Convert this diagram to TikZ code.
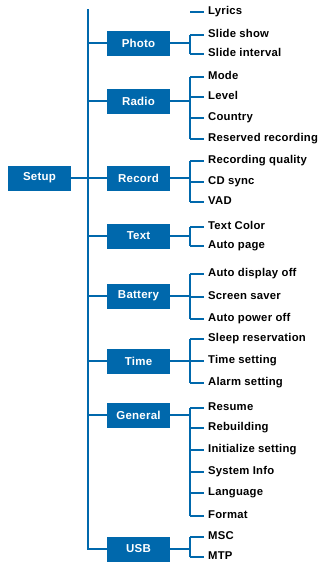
\documentclass[tikz,border=0pt]{standalone}
\usepackage{fontspec}
\setmainfont{Liberation Sans}[LetterSpace=2]
\definecolor{mblue}{RGB}{0,104,172}
\begin{document}
\begin{tikzpicture}[x=1pt,y=-1pt,
  catbox/.style={fill=mblue,text=white,font=\bfseries\fontsize{11.5}{13}\selectfont,minimum width=63pt,minimum height=25pt,inner sep=0pt},
  leaf/.style={anchor=west,font=\bfseries\fontsize{11.3}{13}\selectfont,inner sep=0pt,text height=8.2pt,text depth=2.3pt},
  conn/.style={draw=mblue,line width=1.8pt}]
\useasboundingbox (0,0) rectangle (323,563);
% root
\node[catbox] (setup) at (39.5,178) {Setup};
% categories
\node[catbox] (photo) at (138.5,43) {Photo};
\node[catbox] (radio) at (138.5,101) {Radio};
\node[catbox] (record) at (138.5,178) {Record};
\node[catbox] (text) at (138.5,236) {Text};
\node[catbox] (battery) at (138.5,296) {Battery};
\node[catbox] (time) at (138.5,361) {Time};
\node[catbox] (general) at (138.5,415) {General};
\node[catbox] (usb) at (138.5,549) {USB};
% trunk
\coordinate (ttop) at (88,9);
\coordinate (tbot) at (88,549);
\draw[conn] (ttop) -- (tbot) -- (usb.west);
\draw[conn] (setup.east) -- (88,178);
\foreach \c in {photo,radio,record,text,battery,time,general}
  \draw[conn] (88,0 |- \c.west) -- (\c.west);
% leaves
\newcommand{\leafset}[2]{%
  \foreach \lab/\yy [count=\i] in {#2} {
    \node[leaf] (#1-\i) at (208,\yy) {\lab};
    \draw[conn] (190,\yy) -- (204,\yy);
  }}
% Lyrics (parent above)
\coordinate (lyt) at (190,12);
\node[leaf] (lyrics) at (208,12) {Lyrics};
\draw[conn] (lyt) -- (204,12);
% groups: parent, first y, last y
\newcommand{\grp}[3]{%
  \draw[conn] (#1.east) -- (190,0 |- #1.east);
  \draw[conn] (190,#2) -- (190,#3);}
\leafset{ph}{Slide show/35,Slide interval/54}
\grp{photo}{35}{54}
\leafset{ra}{Mode/77,Level/97,Country/118,Reserved recording/139}
\grp{radio}{77}{139}
\leafset{re}{Recording quality/161,CD sync/182,VAD/202}
\grp{record}{161}{202}
\leafset{te}{Text Color/227,Auto page/246}
\grp{text}{227}{246}
\leafset{ba}{Auto display off/274,Screen saver/297,Auto power off/319}
\grp{battery}{274}{319}
\leafset{ti}{Sleep reservation/339,Time setting/361,Alarm setting/383}
\grp{time}{339}{383}
\leafset{ge}{Resume/408,Rebuilding/428,Initialize setting/450,System Info/472,Language/493,Format/516}
\grp{general}{408}{516}
\leafset{us}{MSC/537,MTP/557}
\grp{usb}{537}{557}
\end{tikzpicture}
\end{document}
